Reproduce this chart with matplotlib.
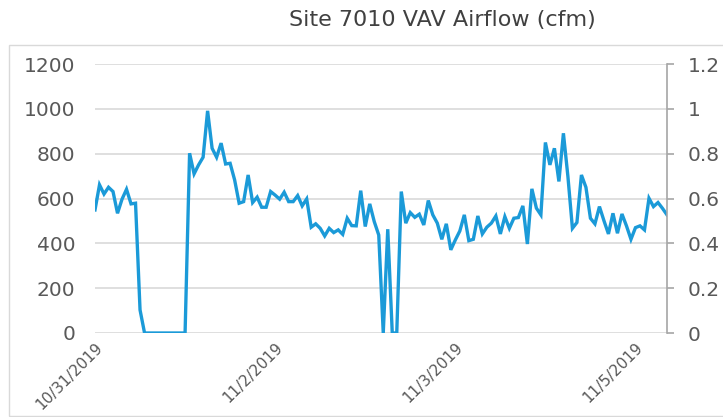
import matplotlib
matplotlib.use("Agg")
import matplotlib.pyplot as plt
from matplotlib.patches import Rectangle
import numpy as np

title = "Site 7010 VAV Airflow (cfm)"
airflow = [
    549, 661, 620, 650, 631, 534, 597, 641, 576, 579,
    103, 0, 0, 0, 0, 0, 0, 0, 0, 0,
    0, 802, 710, 750, 784, 991, 824, 784, 847, 754,
    757, 683, 579, 586, 705, 582, 606, 561, 561, 631,
    615, 597, 628, 586, 586, 613, 567, 598, 472, 487,
    467, 433, 467, 448, 460, 440, 512, 479, 478, 635,
    475, 576, 497, 437, 0, 463, 0, 0, 631, 490,
    537, 516, 530, 482, 591, 527, 490, 418, 487, 371,
    415, 455, 527, 412, 418, 522, 442, 472, 490, 522,
    442, 519, 467, 512, 515, 567, 397, 643, 557, 527,
    850, 750, 824, 676, 891, 698, 467, 493, 705, 650,
    512, 487, 564, 501, 442, 534, 445, 531, 478, 418,
    470, 478, 460, 601, 564, 582, 556, 527,
]
date_label_pos = [0, 40, 80, 120]
date_labels = ["10/31/2019", "11/2/2019", "11/3/2019", "11/5/2019"]
left_ticks = [0, 200, 400, 600, 800, 1000, 1200]
right_ticks = [0, 0.2, 0.4, 0.6, 0.8, 1.0, 1.2]
right_labels = ["0", "0.2", "0.4", "0.6", "0.8", "1", "1.2"]

W, H = 723, 417
fig = plt.figure(figsize=(W / 100, H / 100), dpi=100)
fig.patch.set_facecolor("white")

ax_l, ax_r, ax_t, ax_b = 95, 667, 64, 333
ax = fig.add_axes([ax_l / W, 1 - ax_b / H, (ax_r - ax_l) / W, (ax_b - ax_t) / H])

# chart border
fig.add_artist(Rectangle((9 / W, 1 - 416 / H), 2.0, (416 - 45) / H,
                         transform=fig.transFigure, fill=False,
                         edgecolor="#d9d9d9", linewidth=1.0, clip_on=False))

x = np.arange(len(airflow))
ax.plot(x, airflow, color="#1b9ad8", linewidth=2.4, solid_joinstyle="miter", zorder=3)
ax.set_xlim(0, len(airflow) - 1)
ax.set_ylim(0, 1200)
ax.set_yticks(left_ticks)
ax.set_yticklabels([str(v) for v in left_ticks])
ax.grid(axis="y", color="#d9d9d9", linewidth=1.2)
ax.set_axisbelow(True)
for s in ["left", "right", "top", "bottom"]:
    ax.spines[s].set_visible(False)
ax.tick_params(axis="y", length=0, pad=14, labelsize=14.5, labelcolor="#595959")
ax.set_xticks(date_label_pos)
ax.set_xticklabels(date_labels, rotation=45, ha="right", rotation_mode="anchor",
                   fontsize=11, color="#595959")
ax.tick_params(axis="x", length=0, pad=5)

ax2 = ax.twinx()
ax2.set_ylim(0, 1.2)
ax2.set_yticks(right_ticks)
ax2.set_yticklabels(right_labels)
for s in ["left", "top", "bottom"]:
    ax2.spines[s].set_visible(False)
ax2.spines["right"].set_color("#a6a6a6")
ax2.spines["right"].set_linewidth(1.2)
ax2.tick_params(axis="y", length=5, width=1.2, color="#a6a6a6", pad=10,
                labelsize=14.5, labelcolor="#595959")

fig.text(442 / W, 1 - 20 / H, title, ha="center", va="center",
         fontsize=16, color="#404040", family="DejaVu Sans")

fig.savefig("out.png", dpi=100)
